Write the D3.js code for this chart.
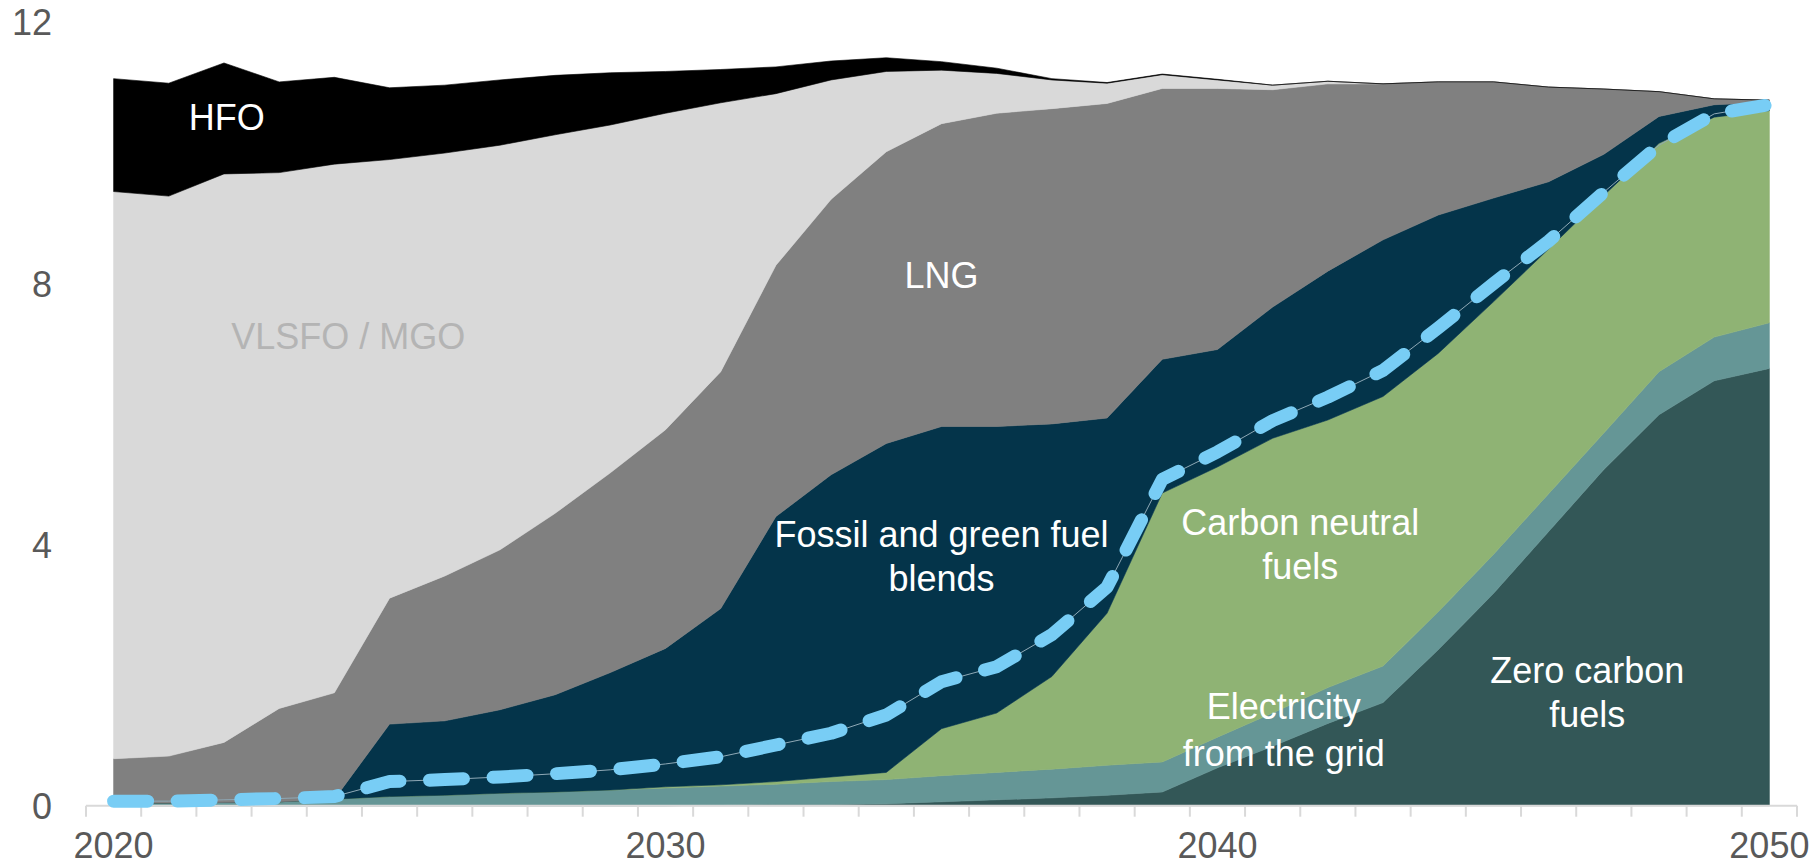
<!DOCTYPE html>
<html><head><meta charset="utf-8">
<script src="https://cdn.jsdelivr.net/npm/d3@7"></script>
<style>
html,body{margin:0;padding:0;background:#fff;}
svg{display:block;font-family:"Liberation Sans",Arial,sans-serif;}
</style></head>
<body>
<svg id="chart" width="1813" height="866"></svg>
<script>
const years = d3.range(2020, 2051);
const yTicks = [0, 4, 8, 12];
const xLabels = [2020, 2030, 2040, 2050];

const zeroCarbon = [0,0,0,0,0,0,0,0,0,0,0,0.01,0.02,0.02,0.03,0.06,0.09,0.12,0.16,0.21,0.58,0.91,1.26,1.58,2.39,3.25,4.2,5.15,5.99,6.51,6.70];
const electricity = [0.04,0.04,0.05,0.06,0.10,0.14,0.16,0.19,0.21,0.24,0.27,0.29,0.31,0.35,0.37,0.40,0.42,0.44,0.46,0.46,0.47,0.51,0.55,0.56,0.58,0.60,0.58,0.56,0.66,0.67,0.70];
const carbonNeutral = [0,0,0,0,0,0,0,0,0,0,0.02,0.02,0.04,0.07,0.11,0.72,0.91,1.42,2.33,4.12,4.14,4.21,4.10,4.13,3.96,3.87,3.75,3.64,3.50,3.37,3.25];
const blends = [0,0,0,0,0,1.11,1.14,1.28,1.49,1.80,2.12,2.70,4.06,4.63,5.04,4.63,4.39,3.87,2.99,2.05,1.80,2.01,2.28,2.40,2.12,1.59,1.03,0.63,0.41,0.19,0.13];
const lng = [0.68,0.72,0.92,1.43,1.63,1.93,2.22,2.45,2.78,3.06,3.35,3.63,3.85,4.22,4.47,4.64,4.80,4.83,4.82,4.15,4.00,3.33,2.87,2.39,2.04,1.78,1.45,1.00,0.38,0.09,0.03];
const vlsfo = [8.69,8.58,8.71,8.21,8.10,6.72,6.48,6.20,5.80,5.33,4.85,4.12,2.63,1.83,1.23,0.82,0.61,0.44,0.31,0.21,0.13,0.07,0.04,0,0,0,0,0,0,0,0];
const hfo = [1.73,1.73,1.70,1.39,1.33,1.10,1.04,1.00,0.91,0.80,0.64,0.51,0.41,0.29,0.21,0.13,0.08,0.02,0.01,0.01,0.01,0,0,0,0,0,0,0,0,0,0];
const greenPathway = [0.07,0.07,0.09,0.11,0.14,0.37,0.40,0.44,0.49,0.55,0.64,0.75,0.93,1.11,1.39,1.90,2.13,2.62,3.35,5.0,5.42,5.9,6.26,6.67,7.32,8.0,8.65,9.4,10.12,10.6,10.74];

const seriesNames = ["zeroCarbon","electricity","carbonNeutral","blends","lng","vlsfo","hfo"];
const seriesData = {zeroCarbon, electricity, carbonNeutral, blends, lng, vlsfo, hfo};
const colors = {zeroCarbon:"#335757", electricity:"#659696", carbonNeutral:"#8FB374", blends:"#04344A", lng:"#808080", vlsfo:"#D9D9D9", hfo:"#000000"};

const labels = [
  {lines:["HFO"], year:2022.05, y:130, gap:0, color:"#fff"},
  {lines:["VLSFO / MGO"], year:2024.25, y:349, gap:0, color:"#B4B4B4"},
  {lines:["LNG"], year:2035, y:288, gap:0, color:"#fff"},
  {lines:["Fossil and green fuel","blends"], year:2035, y:547, gap:43.5, color:"#fff"},
  {lines:["Carbon neutral","fuels"], year:2041.5, y:535, gap:43.5, color:"#fff"},
  {lines:["Electricity","from the grid"], year:2041.2, y:719, gap:47, color:"#fff"},
  {lines:["Zero carbon","fuels"], year:2046.7, y:683, gap:43.5, color:"#fff"}
];

const table = years.map((yr, i) => {
  const row = {year: yr};
  seriesNames.forEach(k => row[k] = seriesData[k][i]);
  return row;
});

const svg = d3.select("#chart");
const x = d3.scaleBand().domain(years).range([86, 1797]).paddingInner(0).paddingOuter(0);
const cx = yr => x(yr) + x.bandwidth() / 2;
const xLin = d3.scaleLinear().domain([2020, 2050]).range([cx(2020), cx(2050)]);
const y = d3.scaleLinear().domain([0, 12]).range([805.7, 22.5]);

const stack = d3.stack().keys(seriesNames);
const stacked = stack(table);
const area = d3.area().x(d => cx(d.data.year)).y0(d => y(d[0])).y1(d => y(d[1])).curve(d3.curveLinear);

svg.append("g").selectAll("path").data(stacked).join("path")
  .attr("d", area)
  .attr("fill", d => colors[d.key])
  .attr("stroke", d => colors[d.key])
  .attr("stroke-width", 0.6);

// x axis
const axisY = y(0);
svg.append("line").attr("x1", 86).attr("x2", 1797).attr("y1", axisY).attr("y2", axisY)
  .attr("stroke", "#D9D9D9").attr("stroke-width", 2);
const boundaries = years.map(yr => x(yr)).concat([x(2050) + x.bandwidth()]);
svg.append("g").selectAll("line").data(boundaries).join("line")
  .attr("x1", d => d).attr("x2", d => d).attr("y1", axisY).attr("y2", axisY + 11)
  .attr("stroke", "#D9D9D9").attr("stroke-width", 2);
svg.append("g").selectAll("text").data(xLabels).join("text")
  .attr("x", d => cx(d)).attr("y", 858).attr("text-anchor", "middle")
  .attr("font-size", 36).attr("fill", "#595959").text(d => d);

// y axis labels
svg.append("g").selectAll("text").data(yTicks).join("text")
  .attr("x", 52).attr("y", d => y(d)).attr("dy", "0.36em").attr("text-anchor", "end")
  .attr("font-size", 36).attr("fill", "#595959").text(d => d);

// green pathway line
const line = d3.line().x((d, i) => cx(years[i])).y(d => y(d));
svg.append("path").attr("d", line(greenPathway)).attr("fill", "none")
  .attr("stroke", "#8FA9B6").attr("stroke-width", 1);
svg.append("path").attr("d", line(greenPathway)).attr("fill", "none")
  .attr("stroke", "#78CDF5").attr("stroke-width", 13)
  .attr("stroke-linecap", "round").attr("stroke-linejoin", "round")
  .attr("stroke-dasharray", "34,29.6");

// labels
labels.forEach(l => {
  const t = svg.append("text").attr("text-anchor", "middle").attr("font-size", 36).attr("fill", l.color);
  l.lines.forEach((s, i) => {
    t.append("tspan").attr("x", xLin(l.year)).attr("y", l.y + i * l.gap).text(s);
  });
});
</script>
</body></html>
